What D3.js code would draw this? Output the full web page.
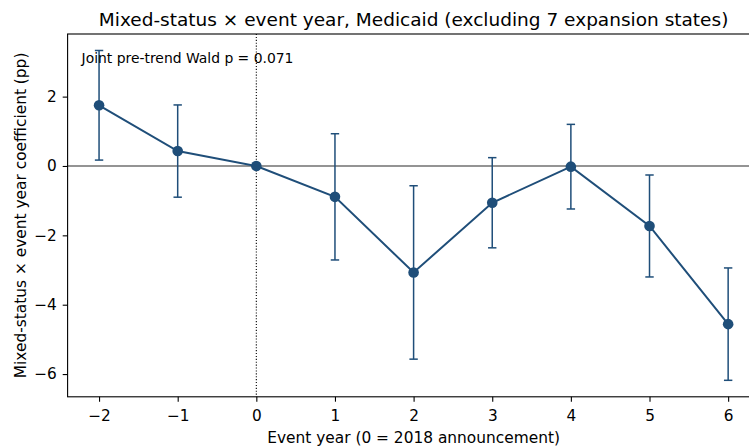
<!DOCTYPE html>
<html>
<head>
<meta charset="utf-8">
<script src="https://cdn.jsdelivr.net/npm/d3@7"></script>
<style>
  html, body { margin: 0; padding: 0; background: #fff; }
  svg { display: block; font-family: "DejaVu Sans", sans-serif; }
</style>
</head>
<body>
<svg id="chart" width="749" height="448"></svg>
<script>
// Event-study coefficients (pp) with 95% CI bounds
const eventYears = [-2, -1, 0, 1, 2, 3, 4, 5, 6];
const coef   = [1.75, 0.43, 0.00, -0.89, -3.07, -1.06, -0.02, -1.73, -4.56];
const ciLow  = [0.17, -0.90, 0.00, -2.71, -5.57, -2.36, -1.24, -3.20, -6.18];
const ciHigh = [3.33, 1.76, 0.00, 0.93, -0.57, 0.24, 1.20, -0.26, -2.94];
const xTicks = [-2, -1, 0, 1, 2, 3, 4, 5, 6];
const yTicks = [-6, -4, -2, 0, 2];

const titleText = "Mixed-status \u00d7 event year, Medicaid (excluding 7 expansion states)";
const xLabel = "Event year (0 = 2018 announcement)";
const yLabel = "Mixed-status \u00d7 event year coefficient (pp)";
const noteText = "Joint pre-trend Wald p = 0.071";

const color = "#1f4e79";
const svg = d3.select("#chart");

// Plot area
const plot = { left: 67.6, right: 759.6, top: 34, bottom: 396.8 };

// Limits padded by 5% of the data span
const xMin = d3.min(eventYears), xMax = d3.max(eventYears);
const xPad = (xMax - xMin) * 0.05;
const yMin = d3.min(ciLow), yMax = d3.max(ciHigh);
const yPad = (yMax - yMin) * 0.05;

const x = d3.scaleLinear().domain([xMin - xPad, xMax + xPad]).range([plot.left, plot.right]);
const y = d3.scaleLinear().domain([yMin - yPad, yMax + yPad]).range([plot.bottom, plot.top]);

const data = eventYears.map((e, i) => ({ e, c: coef[i], lo: ciLow[i], hi: ciHigh[i] }));

const fmt = d3.format("d");
const tickFont = "15.3px";
const labelFont = "15.4px";

// Axes
const xAxis = d3.axisBottom(x).tickValues(xTicks).tickFormat(fmt).tickSizeInner(4.9).tickSizeOuter(0).tickPadding(4.9);
const yAxis = d3.axisLeft(y).tickValues(yTicks).tickFormat(fmt).tickSizeInner(4.9).tickSizeOuter(0).tickPadding(6);

const gx = svg.append("g").attr("transform", `translate(0,${plot.bottom})`).call(xAxis);
const gy = svg.append("g").attr("transform", `translate(${plot.left},0)`).call(yAxis);
[gx, gy].forEach(g => {
  g.select(".domain").remove();
  g.selectAll(".tick line").attr("stroke", "#000").attr("stroke-width", 1.1);
  g.selectAll(".tick text").attr("fill", "#000").attr("font-size", tickFont)
    .attr("font-family", "DejaVu Sans, sans-serif");
});
// x tick labels: baseline just under the ticks
gx.selectAll(".tick text").attr("y", 23.8).attr("dy", null);

// Reference lines
svg.append("line")
  .attr("x1", plot.left).attr("x2", plot.right)
  .attr("y1", y(0)).attr("y2", y(0))
  .attr("stroke", "#2a2a2a").attr("stroke-width", 1.2);
svg.append("line")
  .attr("x1", x(0)).attr("x2", x(0))
  .attr("y1", plot.top).attr("y2", plot.bottom)
  .attr("stroke", "#000").attr("stroke-width", 1.1)
  .attr("stroke-dasharray", "1.1,1.8");

// Error bars
const capHalf = 4.2;
const eb = svg.append("g").attr("stroke", color).attr("stroke-width", 1.5).attr("fill", "none");
data.filter(d => d.hi > d.lo).forEach(d => {
  eb.append("line").attr("x1", x(d.e)).attr("x2", x(d.e)).attr("y1", y(d.lo)).attr("y2", y(d.hi));
  eb.append("line").attr("x1", x(d.e) - capHalf).attr("x2", x(d.e) + capHalf).attr("y1", y(d.lo)).attr("y2", y(d.lo));
  eb.append("line").attr("x1", x(d.e) - capHalf).attr("x2", x(d.e) + capHalf).attr("y1", y(d.hi)).attr("y2", y(d.hi));
});

// Coefficient line and markers
svg.append("path")
  .datum(data)
  .attr("fill", "none")
  .attr("stroke", color)
  .attr("stroke-width", 2)
  .attr("d", d3.line().x(d => x(d.e)).y(d => y(d.c)));

svg.append("g").selectAll("circle")
  .data(data)
  .join("circle")
  .attr("cx", d => x(d.e))
  .attr("cy", d => y(d.c))
  .attr("r", 5.3)
  .attr("fill", color);

// Frame
svg.append("rect")
  .attr("x", plot.left).attr("y", plot.top)
  .attr("width", plot.right - plot.left).attr("height", plot.bottom - plot.top)
  .attr("fill", "none").attr("stroke", "#000").attr("stroke-width", 1.1);

// Annotation
svg.append("text")
  .attr("x", plot.left + 14).attr("y", 63)
  .attr("font-size", "13.9px").attr("fill", "#000")
  .text(noteText);

// Title and labels
svg.append("text")
  .attr("x", (plot.left + plot.right) / 2).attr("y", 26)
  .attr("text-anchor", "middle")
  .attr("font-size", "18.5px").attr("fill", "#000")
  .text(titleText);

svg.append("text")
  .attr("x", (plot.left + plot.right) / 2).attr("y", 443)
  .attr("text-anchor", "middle")
  .attr("font-size", labelFont).attr("fill", "#000")
  .text(xLabel);

svg.append("text")
  .attr("transform", `translate(26,${(plot.top + plot.bottom) / 2}) rotate(-90)`)
  .attr("text-anchor", "middle")
  .attr("font-size", labelFont).attr("fill", "#000")
  .text(yLabel);
</script>
</body>
</html>
